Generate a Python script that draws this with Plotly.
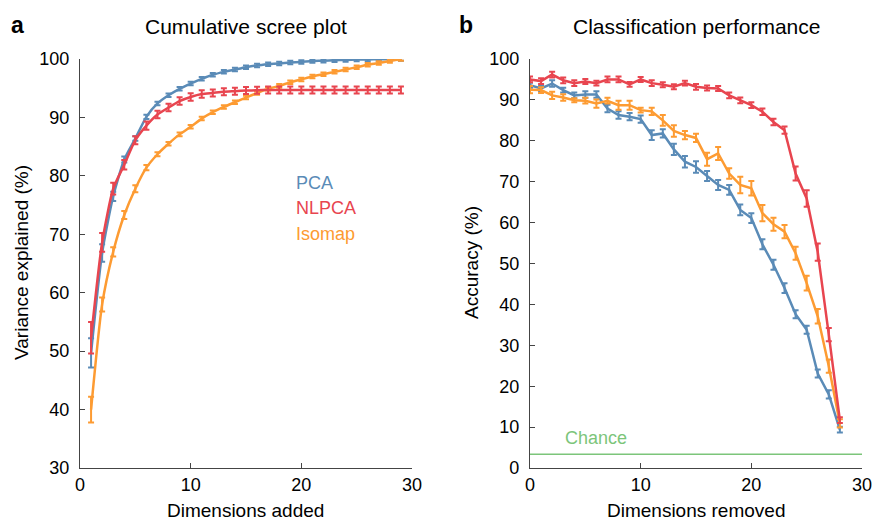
import plotly.graph_objects as go

# ---------------- data ----------------
dims_added = list(range(1, 30))
pca_var = [49.7, 66.8, 76.5, 82.8, 86.4, 90.1, 92.4, 93.8, 94.9, 95.8, 96.6, 97.3, 97.8, 98.2,
           98.6, 98.9, 99.1, 99.25, 99.4, 99.5, 99.65, 99.7, 99.8, 99.85, 99.9, 99.93, 99.96, 99.98, 100.0]
pca_var_err = [2.5, 1.5, 0.8, 0.5, 0.4, 0.35, 0.3, 0.3, 0.3, 0.3, 0.3, 0.3, 0.3, 0.3,
               0.3, 0.3, 0.3, 0.3, 0.3, 0.3, 0.3, 0.3, 0.3, 0.3, 0.3, 0.3, 0.3, 0.3, 0.3]
nlpca_var = [52.3, 68.6, 77.8, 81.9, 86.1, 88.6, 90.5, 91.7, 92.8, 93.5, 94.0, 94.2, 94.4, 94.5,
             94.6, 94.65, 94.7, 94.7, 94.7, 94.7, 94.7, 94.7, 94.7, 94.7, 94.7, 94.7, 94.7, 94.7, 94.7]
nlpca_var_err = [2.7, 1.6, 1.0, 0.8, 0.7, 0.7, 0.65, 0.65, 0.65, 0.65, 0.65, 0.6, 0.6, 0.6,
                 0.6, 0.6, 0.6, 0.6, 0.6, 0.6, 0.6, 0.6, 0.6, 0.6, 0.6, 0.6, 0.6, 0.6, 0.6]
iso_var = [40.0, 58.0, 67.0, 73.3, 77.8, 81.4, 83.7, 85.5, 87.1, 88.4, 89.8, 90.9, 91.8, 92.6,
           93.4, 94.2, 94.9, 95.4, 96.0, 96.5, 97.0, 97.4, 97.8, 98.2, 98.6, 99.0, 99.3, 99.65, 100.0]
iso_var_err = [2.2, 1.2, 0.8, 0.7, 0.6, 0.45, 0.35, 0.3, 0.3, 0.3, 0.3, 0.3, 0.3, 0.3,
               0.3, 0.3, 0.3, 0.3, 0.3, 0.3, 0.3, 0.3, 0.3, 0.3, 0.3, 0.3, 0.3, 0.3, 0.3]

dims_removed = list(range(0, 29))
pca_acc = [93.6, 92.8, 94.0, 92.4, 91.1, 91.3, 91.3, 87.9, 86.3, 85.9, 85.3, 81.4, 81.8, 77.9, 74.9,
           73.6, 71.4, 69.2, 68.0, 63.1, 61.1, 54.7, 49.7, 44.0, 37.6, 33.8, 23.1, 18.0, 9.4]
pca_acc_err = [0.6, 0.6, 0.8, 0.6, 0.7, 0.8, 0.8, 0.9, 0.9, 0.9, 0.9, 1.2, 1.0, 1.4, 1.4,
               1.4, 1.2, 1.2, 1.2, 1.3, 1.2, 1.2, 1.2, 1.2, 1.0, 1.0, 1.0, 1.0, 0.7]
nlpca_acc = [95.0, 94.6, 96.2, 94.8, 94.1, 94.5, 94.1, 95.0, 95.0, 93.8, 95.0, 94.1, 93.7, 93.2, 94.1,
             93.2, 92.9, 92.8, 91.1, 89.9, 88.7, 87.1, 84.6, 82.6, 72.0, 65.9, 52.8, 32.6, 11.7]
nlpca_acc_err = [0.7, 0.7, 0.7, 0.7, 0.7, 0.6, 0.6, 0.7, 0.7, 0.6, 0.6, 0.7, 0.6, 0.6, 0.6,
                 0.7, 0.6, 0.6, 0.7, 0.7, 0.7, 0.8, 0.8, 0.9, 1.7, 2.0, 2.1, 1.6, 0.7]
iso_acc = [92.5, 92.4, 91.1, 90.6, 89.9, 89.8, 89.1, 89.8, 88.7, 88.7, 87.5, 87.2, 85.0, 82.4, 81.4,
           80.7, 75.5, 76.9, 72.0, 69.2, 68.4, 62.3, 59.6, 57.8, 52.5, 45.2, 37.1, 24.9, 10.9]
iso_acc_err = [0.9, 0.7, 0.9, 0.8, 0.5, 0.7, 1.0, 0.7, 1.1, 1.1, 0.6, 0.9, 1.3, 1.4, 1.0,
               1.0, 1.6, 1.6, 1.3, 2.0, 1.8, 2.0, 1.6, 1.6, 1.6, 1.8, 1.8, 1.6, 1.0]

chance_level = 100.0 / 30.0
method_names = ["PCA", "NLPCA", "Isomap"]

# ---------------- style ----------------
C_PCA = "#5a8bb7"
C_NL = "#e8454f"
C_ISO = "#fd9b32"
C_CH = "#7cc57a"
FONT = "Liberation Sans, Arial, Helvetica, sans-serif"
W, H = 874, 521

fig = go.Figure()


def add_series(x, y, err, color, xa, ya, shape):
    fig.add_trace(go.Scatter(
        x=x, y=y, mode="lines", xaxis=xa, yaxis=ya,
        line=dict(color=color, width=2.5, shape=shape, smoothing=0.6),
        error_y=dict(type="data", array=err, visible=True, color=color, thickness=2, width=3),
        showlegend=False, hoverinfo="skip"))


add_series(dims_added, pca_var, pca_var_err, C_PCA, "x", "y", "spline")
add_series(dims_added, iso_var, iso_var_err, C_ISO, "x", "y", "spline")
add_series(dims_added, nlpca_var, nlpca_var_err, C_NL, "x", "y", "spline")

fig.add_trace(go.Scatter(x=[0, 30], y=[chance_level, chance_level], mode="lines",
                         xaxis="x2", yaxis="y2", line=dict(color=C_CH, width=1.5),
                         showlegend=False, hoverinfo="skip"))
add_series(dims_removed, pca_acc, pca_acc_err, C_PCA, "x2", "y2", "linear")
add_series(dims_removed, iso_acc, iso_acc_err, C_ISO, "x2", "y2", "linear")
add_series(dims_removed, nlpca_acc, nlpca_acc_err, C_NL, "x2", "y2", "linear")

ydom = [1 - 468 / H, 1 - 59 / H]
axis_common = dict(showgrid=False, zeroline=False, showline=True, linecolor="#444",
                   linewidth=1.3, ticks="inside", ticklen=5, tickwidth=1.3, tickcolor="#444",
                   tickfont=dict(family=FONT, size=18, color="black"),
                   automargin=False)

fig.update_layout(
    width=W, height=H, margin=dict(l=0, r=0, t=0, b=0, autoexpand=False),
    paper_bgcolor="white", plot_bgcolor="white",
    font=dict(family=FONT, color="black"),
    xaxis=dict(domain=[80 / W, 412 / W], range=[0, 30], tickvals=[0, 10, 20, 30],
               anchor="y", ticklabelstandoff=0, **axis_common),
    yaxis=dict(domain=ydom, range=[30, 100], tickvals=list(range(30, 101, 10)),
               anchor="x", ticklabelstandoff=6, **axis_common),
    xaxis2=dict(domain=[530 / W, 862 / W], range=[0, 30], tickvals=[0, 10, 20, 30],
                anchor="y2", ticklabelstandoff=0, **axis_common),
    yaxis2=dict(domain=ydom, range=[0, 100], tickvals=list(range(0, 101, 10)),
                anchor="x2", ticklabelstandoff=6, **axis_common),
)


def px_ann(text, x, y, size, color="black", bold=False, xanchor="center", angle=0):
    fig.add_annotation(
        text=f"<b>{text}</b>" if bold else text, x=x / W, y=1 - y / H,
        xref="paper", yref="paper", xanchor=xanchor, yanchor="middle",
        showarrow=False, textangle=angle,
        font=dict(family=FONT, size=size, color=color))


px_ann("a", 17, 25, 23, bold=True)
px_ann("b", 466, 25, 23, bold=True)
px_ann("Cumulative scree plot", 246, 27, 21)
px_ann("Classification performance", 696, 27, 21)
px_ann("Dimensions added", 246, 510, 19)
px_ann("Dimensions removed", 696, 510, 19)
px_ann("Variance explained (%)", 21, 263, 19, angle=-90)
px_ann("Accuracy (%)", 471, 263, 19, angle=-90)
for name, col, yy in zip(method_names, [C_PCA, C_NL, C_ISO], [183, 208, 234]):
    px_ann(name, 294, yy, 18, color=col, xanchor="left")
px_ann("Chance", 563, 438, 18, color=C_CH, xanchor="left")

fig.write_html("out.html")
